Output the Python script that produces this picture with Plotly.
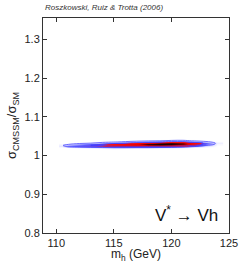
import plotly.graph_objects as go

# Higgs mass columns (GeV)
mh = [110.5, 111, 112, 113, 114, 115, 116, 117, 118, 119, 120, 121, 122, 123, 124]
# cross-section ratio rows
ratio = [1.014, 1.017, 1.020, 1.023, 1.026, 1.029, 1.032, 1.035, 1.038, 1.041, 1.044]
# relative posterior density, one list per mh column (bottom -> top)
col_110_5 = [0, 0, 0, 0.01, 0.03, 0.01, 0, 0, 0, 0, 0]
col_111 = [0, 0, 0, 0.06, 0.14, 0.04, 0, 0, 0, 0, 0]
col_112 = [0, 0, 0.01, 0.09, 0.20, 0.11, 0.02, 0, 0, 0, 0]
col_113 = [0, 0, 0.02, 0.12, 0.25, 0.18, 0.05, 0, 0, 0, 0]
col_114 = [0, 0, 0.03, 0.14, 0.30, 0.26, 0.10, 0.02, 0, 0, 0]
col_115 = [0, 0.01, 0.04, 0.18, 0.40, 0.40, 0.18, 0.04, 0.01, 0, 0]
col_116 = [0, 0, 0.04, 0.20, 0.46, 0.52, 0.28, 0.07, 0.01, 0, 0]
col_117 = [0, 0, 0.03, 0.19, 0.50, 0.63, 0.40, 0.11, 0.02, 0, 0]
col_118 = [0, 0, 0.03, 0.20, 0.60, 0.86, 0.60, 0.20, 0.03, 0, 0]
col_119 = [0, 0, 0.02, 0.17, 0.60, 0.96, 0.76, 0.28, 0.05, 0, 0]
col_120 = [0, 0, 0.02, 0.14, 0.52, 0.96, 0.85, 0.36, 0.07, 0.01, 0]
col_121 = [0, 0, 0.01, 0.09, 0.42, 0.80, 0.76, 0.35, 0.08, 0.01, 0]
col_122 = [0, 0, 0, 0.04, 0.20, 0.45, 0.46, 0.20, 0.04, 0, 0]
col_123 = [0, 0, 0, 0.01, 0.05, 0.16, 0.18, 0.08, 0.01, 0, 0]
col_124 = [0, 0, 0, 0, 0, 0.01, 0.02, 0.01, 0, 0, 0]

x_ticks = [110, 115, 120, 125]
y_ticks = [0.8, 0.9, 1.0, 1.1, 1.2, 1.3]
y_tick_text = ["0.8", "0.9", "1", "1.1", "1.2", "1.3"]

cols = [col_110_5, col_111, col_112, col_113, col_114, col_115, col_116, col_117,
        col_118, col_119, col_120, col_121, col_122, col_123, col_124]
z = [[c[i] for c in cols] for i in range(len(ratio))]

cscale = [[0, "#ffffff"], [0.02, "#f0f0ff"], [0.08, "#c0c0ff"], [0.18, "#5a5aff"],
          [0.27, "#6a40e0"], [0.33, "#ff1010"], [0.66, "#e80000"], [0.84, "#500000"],
          [1, "#000000"]]

fig = go.Figure()
fig.add_trace(go.Heatmap(x=mh, y=ratio, z=z, zsmooth="best", colorscale=cscale,
                         zmin=0, zmax=1, showscale=False, hoverinfo="skip"))
fig.add_trace(go.Contour(x=mh, y=ratio, z=z, showscale=False, hoverinfo="skip",
                         contours=dict(coloring="lines", start=0.05, end=0.25, size=0.2),
                         line=dict(color="#3a3aff", width=0.7),
                         colorscale=[[0, "#3a3aff"], [1, "#3a3aff"]]))

axis_common = dict(showgrid=False, zeroline=False, showline=True, mirror="ticks",
                   linecolor="#333333", linewidth=1, ticks="inside", ticklen=4,
                   tickcolor="#333333",
                   tickfont=dict(family="Liberation Sans, Arial", size=11, color="#222"))
fig.update_xaxes(range=[108.85, 125], tickvals=x_ticks, **axis_common)
fig.update_yaxes(range=[0.8, 1.355], tickvals=y_ticks, ticktext=y_tick_text, **axis_common,
                 title=dict(text="σ<sub>CMSSM</sub>/σ<sub>SM</sub>", standoff=4,
                            font=dict(family="Liberation Sans, Arial", size=13, color="#222")))

fig.add_annotation(text="m<sub>h</sub> (GeV)", xref="paper", yref="paper", x=0.5, y=-0.055,
                   xanchor="center", yanchor="top", showarrow=False,
                   font=dict(family="Liberation Sans, Arial", size=12, color="#222"))
fig.add_annotation(text="V<sup>*</sup> → Vh", xref="paper", yref="paper", x=0.95, y=0.09,
                   xanchor="right", yanchor="middle", showarrow=False,
                   font=dict(family="Liberation Sans, Arial", size=17, color="#111"))
fig.add_annotation(text="<i>Roszkowski, Ruiz &amp; Trotta (2006)</i>", xref="paper", yref="paper",
                   x=0.0, y=1.02, xanchor="left", yanchor="bottom", showarrow=False,
                   font=dict(family="Liberation Sans, Arial", size=8, color="#333"))

fig.update_layout(width=249, height=262, autosize=False, margin=dict(l=41, r=11, t=18, b=29),
                  plot_bgcolor="white", paper_bgcolor="white", showlegend=False)
fig.write_html("out.html", config={"responsive": False, "displayModeBar": False},
               post_script="document.body.style.margin='0';document.body.style.overflow='hidden';")
